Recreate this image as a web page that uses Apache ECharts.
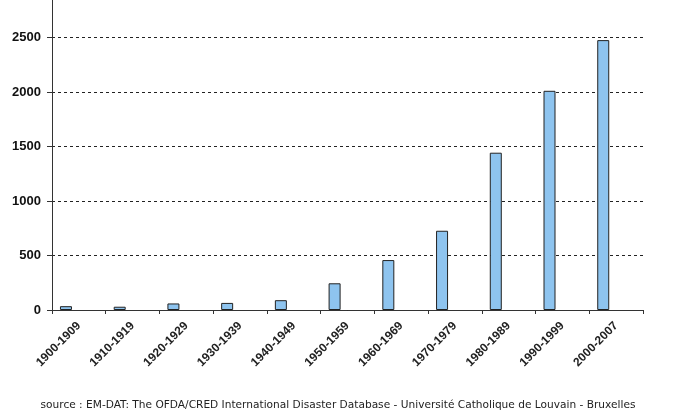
<!DOCTYPE html>
<html>
<head>
<meta charset="utf-8">
<script src="https://cdn.jsdelivr.net/npm/echarts@6/dist/echarts.min.js"></script>
<style>
  html, body { margin: 0; padding: 0; background: #fff; }
  #chart { width: 676px; height: 418px; }
</style>
</head>
<body>
<div id="chart"></div>
<script>
// decades on the x axis
const decades = ['1900-1909', '1910-1919', '1920-1929', '1930-1939', '1940-1949', '1950-1959',
  '1960-1969', '1970-1979', '1980-1989', '1990-1999', '2000-2007'];
// number of disasters per decade
const counts = [35, 30, 60, 65, 90, 245, 458, 727, 1443, 2011, 2476];
// empty second series, keeps bars left of the category centre like the original
const spacer = decades.map(() => '-');
const yTicks = [0, 500, 1000, 1500, 2000, 2500];
const sourceText = 'source : EM-DAT: The OFDA/CRED International Disaster Database - Université Catholique de Louvain - Bruxelles';

const chart = echarts.init(document.getElementById('chart'), null, { renderer: 'canvas' });

chart.setOption({
  animation: false,
  backgroundColor: '#fff',
  title: {
    text: sourceText,
    left: 'center',
    bottom: 2,
    textStyle: { fontFamily: 'DejaVu Sans', fontSize: 10.6, fontWeight: 'normal', color: '#222' }
  },
  grid: { left: 52, right: 33, top: 0, bottom: 108 },
  xAxis: {
    type: 'category',
    data: decades,
    axisLine: { lineStyle: { color: '#333', width: 1 } },
    axisTick: { show: true, length: 4, lineStyle: { color: '#333' } },
    axisLabel: {
      rotate: 45,
      margin: 14,
      fontFamily: 'Liberation Sans',
      fontSize: 12,
      fontWeight: 'bold',
      color: '#222'
    }
  },
  yAxis: {
    type: 'value',
    min: 0,
    max: 2844,
    interval: 500,
    axisLine: { show: true, lineStyle: { color: '#333', width: 1 } },
    axisTick: { show: true, length: 5, lineStyle: { color: '#333' } },
    axisLabel: {
      margin: 11,
      fontFamily: 'Liberation Sans',
      fontSize: 13,
      fontWeight: 'bold',
      color: '#111',
      showMaxLabel: false,
      formatter: (v) => (yTicks.indexOf(v) >= 0 ? String(v) : '')
    },
    splitLine: { show: true, showMaxLine: false, lineStyle: { color: '#222', type: [3, 3], width: 1 } }
  },
  series: [
    {
      type: 'bar',
      data: counts,
      barWidth: 12,
      barGap: '115%',
      itemStyle: { color: '#8ec4ef', borderColor: '#222', borderWidth: 1 }
    },
    {
      type: 'bar',
      data: spacer,
      barWidth: 12
    }
  ]
});
</script>
</body>
</html>
